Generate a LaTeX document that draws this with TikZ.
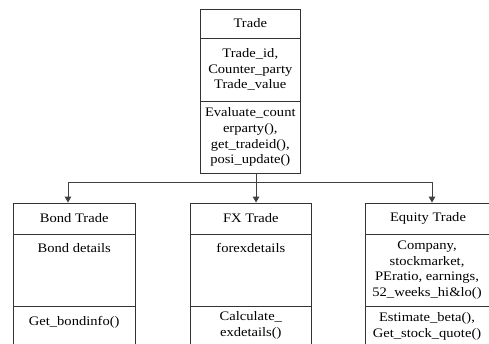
\documentclass[tikz,border=0pt]{standalone}
\usepackage{fontspec}
\setmainfont[FakeStretch=1.12]{Liberation Serif}
\usetikzlibrary{arrows.meta,positioning}

\begin{document}
\begin{tikzpicture}[x=1pt, y=-1pt, every node/.style={font=\fontsize{13}{15.8}\selectfont}, cell/.style={draw=black!80,line width=0.9pt,minimum width=99.3pt,inner sep=0pt,align=center}, subcell/.style={cell,minimum width=121.7pt}, txt/.style={inner sep=0pt,align=center}, arr/.style={-{Triangle[length=6pt,width=6.5pt]},line width=0.9pt,draw=black!75}]
\useasboundingbox (0,0) rectangle (489,343);
\clip (0,0) rectangle (489,343);
% base class
\node[cell,minimum height=29pt] (tradename) at (250.3,23.5) {Trade};
\node[cell,minimum height=63pt] (tradeattr) at (250.3,69.5) {Trade\_id,\\Counter\_party\\Trade\_value};
\node[cell,minimum height=72pt] (trademeth) at (250.3,137) {Evaluate\_count\\erparty(),\\get\_tradeid(),\\posi\_update()};
% derived classes
\foreach \n/\x/\w/\t in {bond/74.2/121.7/Bond Trade,fx/250.85/121.7/FX Trade,equity/428/126/Equity Trade}{
  \node[subcell,minimum width=\w pt,minimum height=31pt] (\n name) at (\x,218.5) {\t};
  \node[subcell,minimum width=\w pt,minimum height=72pt] (\n attr) at (\x,270) {};
  \node[subcell,minimum width=\w pt,minimum height=60pt] (\n meth) at (\x,336) {};
}
\node[txt] (bondattrtxt) at (74.2,248) {Bond details};
\node[txt] (fxattrtxt) at (250.85,248) {forexdetails};
\node[txt] (equityattrtxt) at (427,270) {Company,\\stockmarket,\\PEratio, earnings,\\52\_weeks\_hi\&lo()};
\node[txt] (bondmethtxt) at (74.2,322) {Get\_bondinfo()};
\node[txt] (fxmethtxt) at (250.85,325) {Calculate\_\\exdetails()};
\node[txt] (equitymethtxt) at (427,326) {Estimate\_beta(),\\Get\_stock\_quote()};
% inheritance lines
\coordinate (bus) at (256,182.7);
\draw[line width=0.9pt,draw=black!75] ([xshift=5.7pt]trademeth.south) -- (bus);
\foreach \c/\s in {bondname/-6.2,fxname/5.2,equityname/4}{\draw[arr] (bus) -| ([xshift=\s pt]\c.north);}
\end{tikzpicture}
\end{document}
